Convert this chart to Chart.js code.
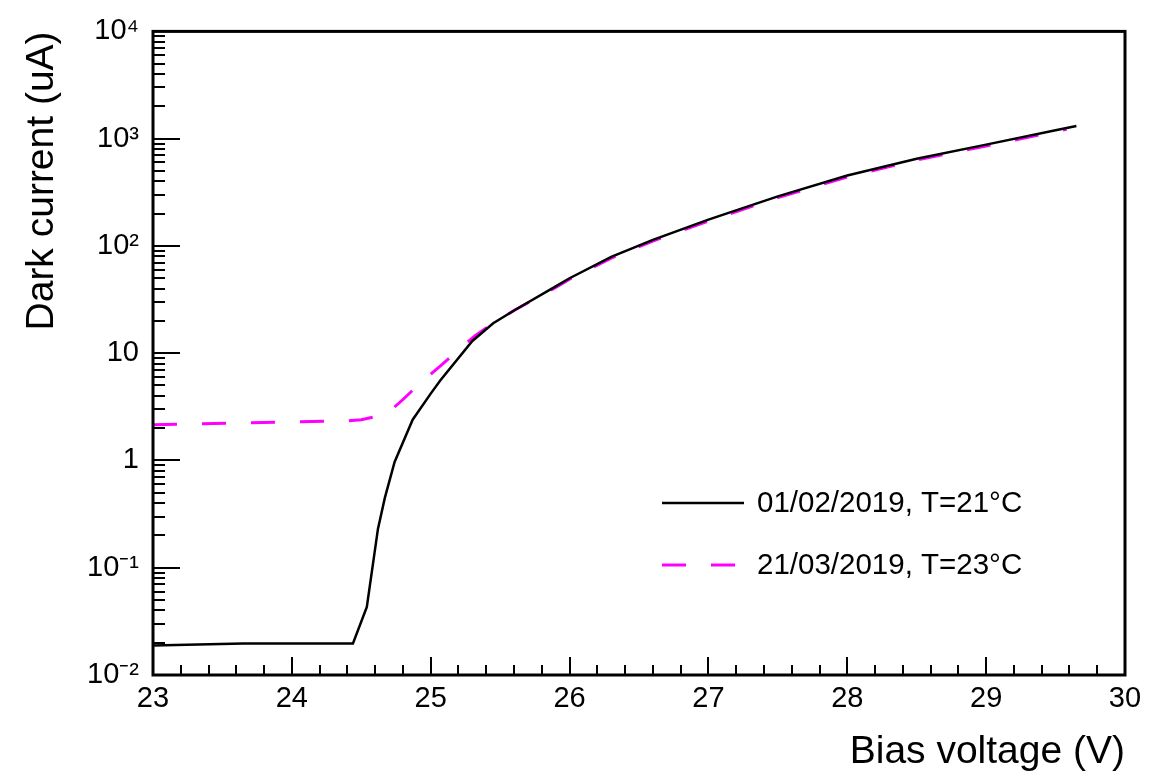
<!DOCTYPE html>
<html>
<head>
<meta charset="utf-8">
<style>
  html, body { margin: 0; padding: 0; background: #fff; }
  #wrap { width: 1156px; height: 777px; position: relative; }
</style>
<script src="https://cdn.jsdelivr.net/npm/chart.js@4/dist/chart.umd.min.js"></script>
</head>
<body>
<div id="wrap"><canvas id="c" width="1156" height="777"></canvas></div>
<script>
// ---- data ----
const seriesLabels = ['01/02/2019, T=21°C', '21/03/2019, T=23°C'];
const voltsA = [23.0, 23.65, 24.44, 24.54, 24.62, 24.67, 24.74, 24.87, 25.0, 25.07, 25.3, 25.45, 25.6, 25.9, 26.0, 26.3, 26.6, 27.0, 27.5, 28.0, 28.5, 29.0, 29.5, 29.65];
const currentA = [0.0188, 0.0197, 0.0197, 0.043, 0.23, 0.45, 0.97, 2.4, 4.2, 5.6, 13, 19, 25, 42, 50, 79, 114, 176, 290, 453, 650, 880, 1200, 1310];
const voltsB = [23.0, 23.7, 24.4, 24.5, 24.68, 24.8, 24.94, 25.07, 25.2, 25.32, 25.45, 25.6, 25.9, 26.0, 26.3, 26.6, 27.0, 27.5, 28.0, 28.5, 29.0, 29.5, 29.58];
const currentB = [2.15, 2.25, 2.34, 2.4, 2.69, 3.7, 5.5, 7.6, 10.7, 14.6, 19, 25, 41, 49, 77, 111, 171, 282, 440, 632, 855, 1165, 1225];
const xTickValues = [23, 24, 25, 26, 27, 28, 29, 30];
const xTickLabels = ['23', '24', '25', '26', '27', '28', '29', '30'];
const yTickValues = [0.01, 0.1, 1, 10, 100, 1000, 10000];
const yTickLabels = ['10⁻²', '10⁻¹', '1', '10', '10²', '10³', '10⁴'];
const xTitle = 'Bias voltage (V)';
const yTitle = 'Dark current (uA)';

const FONT = "'Liberation Sans', Arial, Helvetica, sans-serif";
const CHART_L = 153, CHART_R = 1125, CHART_T = 23, CHART_B = 675;

function toPoints(xs, ys) { return xs.map((x, i) => ({ x: x, y: ys[i] })); }

const framePlugin = {
  id: 'frameTicks',
  afterDatasetsDraw(chart) {
    const ctx = chart.ctx;
    const a = chart.chartArea;
    const xs = chart.scales.x, ys = chart.scales.y;
    ctx.save();
    ctx.strokeStyle = '#000';
    ctx.lineWidth = 2;
    ctx.beginPath();
    // x ticks (major + minor every 0.2)
    for (let i = 0; i <= 35; i++) {
      const v = 23 + i * 0.2;
      const px = Math.round(xs.getPixelForValue(v));
      const len = (i % 5 === 0) ? 18 : 10;
      ctx.moveTo(px, a.bottom);
      ctx.lineTo(px, a.bottom - len);
    }
    // y ticks (log: major decades + minor 2..9)
    for (let e = -2; e <= 4; e++) {
      for (let m = 1; m <= 9; m++) {
        const v = m * Math.pow(10, e);
        if (v > 10000 * 1.0001) break;
        const py = Math.round(ys.getPixelForValue(v));
        const len = (m === 1) ? 27 : 12;
        ctx.moveTo(a.left, py);
        ctx.lineTo(a.left + len, py);
      }
    }
    ctx.stroke();
    // frame
    ctx.lineWidth = 3;
    ctx.strokeRect(a.left, a.top, a.right - a.left, a.bottom - a.top);
    ctx.restore();

    // legend inside plot
    const rows = [{ y: 503 }, { y: 565 }];
    chart.data.datasets.forEach((ds, i) => {
      const y = rows[i].y;
      ctx.save();
      ctx.strokeStyle = ds.borderColor;
      ctx.lineWidth = ds.borderWidth;
      ctx.setLineDash(ds.borderDash || []);
      ctx.beginPath();
      ctx.moveTo(662, y);
      ctx.lineTo(744, y);
      ctx.stroke();
      ctx.setLineDash([]);
      ctx.fillStyle = '#000';
      ctx.font = '29.5px ' + FONT;
      ctx.textAlign = 'left';
      ctx.textBaseline = 'middle';
      ctx.fillText(ds.label, 757, y + 1);
      ctx.restore();
    });
  }
};

new Chart(document.getElementById('c'), {
  type: 'scatter',
  data: {
    datasets: [
      {
        label: seriesLabels[0],
        data: toPoints(voltsA, currentA),
        showLine: true,
        borderColor: '#000000',
        backgroundColor: '#000000',
        borderWidth: 2.5,
        pointRadius: 0,
        tension: 0
      },
      {
        label: seriesLabels[1],
        data: toPoints(voltsB, currentB),
        showLine: true,
        borderColor: '#ff00ff',
        backgroundColor: '#ff00ff',
        borderWidth: 3,
        borderDash: [24, 25],
        pointRadius: 0,
        tension: 0
      }
    ]
  },
  options: {
    responsive: false,
    animation: false,
    events: [],
    layout: { padding: { left: 0, top: CHART_T, right: 1156 - CHART_R, bottom: 0 } },
    plugins: { legend: { display: false }, tooltip: { enabled: false } },
    scales: {
      x: {
        type: 'linear',
        min: 23, max: 30,
        afterBuildTicks(s) { s.ticks = xTickValues.map(v => ({ value: v })); },
        afterFit(s) { s.height = 777 - CHART_B; },
        ticks: {
          autoSkip: false, maxRotation: 0,
          padding: 7,
          color: '#000',
          font: { family: FONT, size: 29 },
          callback(v) { const i = xTickValues.indexOf(v); return i >= 0 ? xTickLabels[i] : ''; }
        },
        grid: { display: true, drawOnChartArea: false, drawTicks: false },
        border: { display: false },
        title: {
          display: true, text: xTitle, align: 'end', color: '#000',
          font: { family: FONT, size: 39 },
          padding: { top: 0, bottom: 1 }
        }
      },
      y: {
        type: 'logarithmic',
        min: 0.01, max: 10000,
        afterBuildTicks(s) { s.ticks = yTickValues.map(v => ({ value: v, major: true })); },
        afterFit(s) { s.width = CHART_L; },
        ticks: {
          autoSkip: false,
          padding: 14,
          color: '#000',
          font: { family: FONT, size: 29 },
          callback(v) {
            const i = yTickValues.findIndex(t => Math.abs(t - v) / t < 1e-6);
            return i >= 0 ? yTickLabels[i] : '';
          }
        },
        grid: { display: true, drawOnChartArea: false, drawTicks: false },
        border: { display: false },
        title: {
          display: true, text: yTitle, align: 'end', color: '#000',
          font: { family: FONT, size: 39 },
          padding: { top: 19, bottom: 0 }
        }
      }
    }
  },
  plugins: [framePlugin]
});
</script>
</body>
</html>
